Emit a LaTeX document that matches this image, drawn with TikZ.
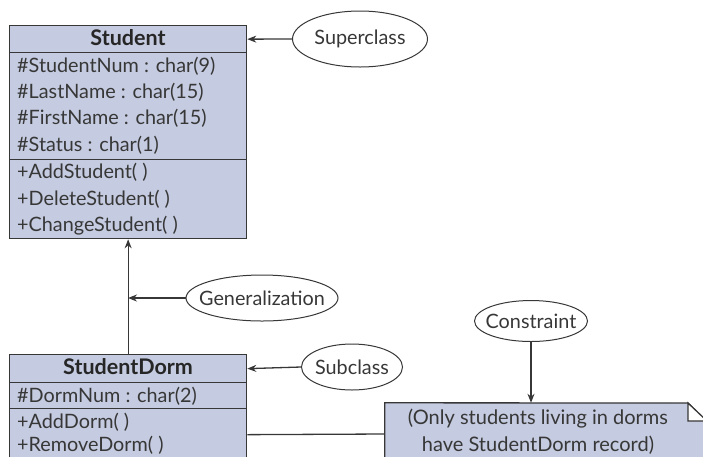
\documentclass[tikz,border=0pt]{standalone}
\usepackage{fontspec}
\setmainfont{Lato}
\usetikzlibrary{arrows.meta,shapes.geometric}
\definecolor{boxfill}{RGB}{197,203,224}
\definecolor{ink}{RGB}{55,55,55}
\tikzset{
  comp/.style={draw=ink,fill=boxfill,line width=1.3pt,rectangle,anchor=north west,inner sep=0pt,minimum width=237pt},
  lbl/.style={anchor=west,inner sep=0pt,font=\fontsize{19.8}{22}\selectfont,text=ink},
  ttl/.style={inner sep=0pt,font=\fontsize{21.5}{24}\selectfont\bfseries,text=black!85},
  oval/.style={draw=ink,ellipse,line width=1pt,inner sep=0pt},
  ovaltext/.style={inner sep=0pt,font=\fontsize{19.8}{22}\selectfont,text=ink},
  conn/.style={draw=ink,line width=1.3pt},
  arr/.style={conn,-{Stealth[length=9pt,width=7pt]}}
}
\begin{document}
\begin{tikzpicture}[x=1pt,y=-1pt]
\useasboundingbox (0,0) rectangle (703,456);
\clip (0,0) rectangle (703,456);
% Student class
\node[comp,minimum height=27pt] (sH) at (9,25) {};
\node[comp,minimum height=107pt] (sA) at (9,52) {};
\node[comp,minimum height=79pt] (sM) at (9,159) {};
\node[ttl] (sT) at (128,38) {Student};
\node[lbl] (a1) at (17,66) {\#StudentNum : char(9)};
\node[lbl] (a2) at (17,92) {\#LastName : char(15)};
\node[lbl] (a3) at (17,118) {\#FirstName : char(15)};
\node[lbl] (a4) at (17,145) {\#Status : char(1)};
\node[lbl] (m1) at (17,172) {+AddStudent( )};
\node[lbl] (m2) at (17,199) {+DeleteStudent( )};
\node[lbl] (m3) at (17,226) {+ChangeStudent( )};
% StudentDorm class
\node[comp,minimum height=28pt] (dH) at (9,354) {};
\node[comp,minimum height=26pt] (dA) at (9,382) {};
\node[comp,minimum height=52pt] (dM) at (9,408) {};
\node[ttl] (dT) at (128,367) {StudentDorm};
\node[lbl] (d1) at (17,396) {\#DormNum : char(2)};
\node[lbl] (d2) at (17,422) {+AddDorm( )};
\node[lbl] (d3) at (17,445.5) {+RemoveDorm( )};
% Note
\node[rectangle,inner sep=0pt,minimum width=322pt,minimum height=62pt] (note) at (546,434) {};
\fill[boxfill] (note.north west) -- (688,403) -- (707,422) -- (note.south east) -- (note.south west) -- cycle;
\draw[ink,line width=1.3pt] (note.south west) -- (note.north west) -- (688,403) -- (707,422);
\draw[ink,line width=1.3pt,fill=white] (688,403) -- (688,421) -- (707,421) -- cycle;
\node[inner sep=0pt,align=center,font=\fontsize{20}{27}\selectfont,text=ink] (noteT) at (538,431.5) {(Only students living in dorms\\have StudentDorm record)};
% Ovals
\node[oval,minimum width=135pt,minimum height=56pt] (sup) at (360,39) {};
\node[ovaltext] (supT) at (sup.center) {Superclass};
\node[oval,minimum width=152pt,minimum height=46pt] (gen) at (262,298) {};
\node[ovaltext] (genT) at (gen.center) {Generalization};
\node[oval,minimum width=101pt,minimum height=46pt] (sub) at (352,367) {};
\node[ovaltext] (subT) at (sub.center) {Subclass};
\node[oval,minimum width=113pt,minimum height=41pt] (con) at (531,321) {};
\node[ovaltext] (conT) at (con.center) {Constraint};
\coordinate (gp) at (128,298);
% Connectors
\draw[arr] (sup.west) -- (sH.east);
\draw[arr] (dH.north) -- (sM.south);
\draw[arr] (gen.west) -- (gp);
\draw[arr] (sub.west) -- (dH.east);
\draw[arr] (con.south) -- (note.north -| con.south);
\draw[conn] (dM.east) -- (note.west);
\end{tikzpicture}
\end{document}
